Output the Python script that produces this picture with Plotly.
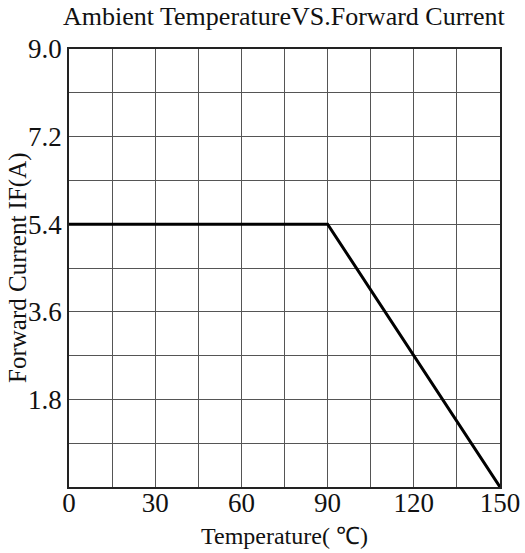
import plotly.graph_objects as go

# Data
temperature = [0, 90, 150]
forward_current = [5.4, 5.4, 0]

x_grid_vals = [0, 15, 30, 45, 60, 75, 90, 105, 120, 135, 150]
x_tick_text = ["0", "", "30", "", "60", "", "90", "", "120", "", "150"]
y_grid_vals = [0, 0.9, 1.8, 2.7, 3.6, 4.5, 5.4, 6.3, 7.2, 8.1, 9.0]
y_tick_text = ["", "", "1.8", "", "3.6", "", "5.4", "", "7.2", "", "9.0"]

title_text = "Ambient TemperatureVS.Forward Current"
x_title = "Temperature( ℃)"
y_title = "Forward Current IF(A)"

serif = "Liberation Serif"

fig = go.Figure()
fig.add_trace(go.Scatter(
    x=temperature, y=forward_current, mode="lines",
    line=dict(color="#000000", width=3), showlegend=False, hoverinfo="skip",
))

fig.update_layout(
    width=525, height=553,
    margin=dict(l=69, r=25, t=49, b=66, autoexpand=False),
    paper_bgcolor="white", plot_bgcolor="white",
    showlegend=False,
    annotations=[
        dict(text=title_text, xref="paper", yref="paper", x=0.5, y=1,
             xanchor="center", yanchor="middle", yshift=33, showarrow=False,
             font=dict(family=serif, size=26, color="#111")),
        dict(text=x_title, xref="paper", yref="paper", x=0.5, y=0,
             xanchor="center", yanchor="middle", yshift=-49, showarrow=False,
             borderpad=0, font=dict(family=serif, size=24, color="#111")),
        dict(text=y_title, xref="paper", yref="paper", x=0, y=0.5,
             xanchor="center", yanchor="middle", xshift=-51, textangle=-90,
             showarrow=False, font=dict(family=serif, size=25, color="#111")),
    ],
)
fig.update_xaxes(
    range=[0, 150], tickmode="array", tickvals=x_grid_vals, ticktext=x_tick_text,
    showgrid=True, gridcolor="#555", gridwidth=1.2,
    showline=True, linecolor="#222", linewidth=1.5, mirror=True,
    ticks="", ticklabelstandoff=-9, automargin=False,
    tickfont=dict(family=serif, size=27, color="#111"),
    zeroline=False,
)
fig.update_yaxes(
    range=[0, 9], tickmode="array", tickvals=y_grid_vals, ticktext=y_tick_text,
    showgrid=True, gridcolor="#555", gridwidth=1.2,
    showline=True, linecolor="#222", linewidth=1.5, mirror=True,
    ticks="", ticklabelstandoff=0, automargin=False,
    tickfont=dict(family=serif, size=27, color="#111"),
    zeroline=False,
)

fig.write_html("out.html")
